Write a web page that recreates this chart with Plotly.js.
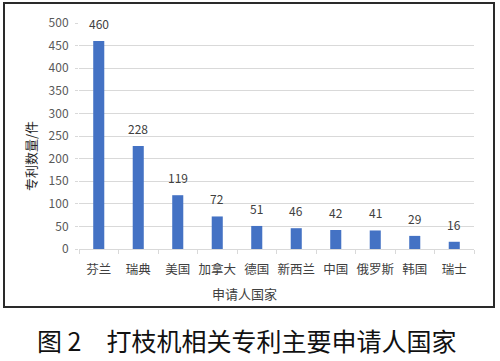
<!DOCTYPE html>
<html>
<head>
<meta charset="utf-8">
<script src="https://cdn.plot.ly/plotly-3.0.1.min.js"></script>
<style>html,body{margin:0;padding:0;background:#fff;}#chart{width:500px;height:361px;}</style>
</head>
<body>
<div id="chart"></div>
<script>
const categories = ["芬兰","瑞典","美国","加拿大","德国","新西兰","中国","俄罗斯","韩国","瑞士"];
const patentCounts = [460,228,119,72,51,46,42,41,29,16];
const yTicks = [0,50,100,150,200,250,300,350,400,450,500];
const yTitle = "专利数量/件";
const xTitle = "申请人国家";
const caption = "图 2　打枝机相关专利主要申请人国家";

const FONT = "'Noto Sans CJK SC', 'Noto Sans', sans-serif";
const W = 500, H = 361;
const L = 79, R = 26, T = 23, B = 112;
const pw = W - L - R, ph = H - T - B;
const px = x => (x - L) / pw;
const py = y => (H - B - y) / ph;

const trace = {
  type: "bar",
  x: categories,
  y: patentCounts,
  marker: {color: "#4472c4"},
  hoverinfo: "x+y"
};

const annotations = categories.map((c, i) => ({
  x: c, y: patentCounts[i], xref: "x", yref: "y",
  text: String(patentCounts[i]), showarrow: false,
  yanchor: "bottom", yshift: 7,
  font: {family: FONT, size: 12, color: "#404040"}
}));
annotations.push({
  xref: "paper", yref: "paper", x: px(30), y: py(156),
  text: yTitle, textangle: -90, showarrow: false,
  xanchor: "center", yanchor: "middle",
  font: {family: FONT, size: 13, color: "#262626"}
});
annotations.push({
  xref: "paper", yref: "paper", x: px(244), y: py(293),
  text: xTitle, showarrow: false, xanchor: "center", yanchor: "middle",
  font: {family: FONT, size: 13, color: "#404040"}
});
annotations.push({
  xref: "paper", yref: "paper", x: px(246), y: py(340),
  text: caption, showarrow: false, xanchor: "center", yanchor: "middle",
  font: {family: FONT, size: 25, color: "#111"}
});

const layout = {
  width: W, height: H,
  margin: {l: L, r: R, t: T, b: B},
  paper_bgcolor: "#fff", plot_bgcolor: "#fff",
  bargap: 0.72,
  showlegend: false,
  xaxis: {
    type: "category",
    tickangle: 0,
    tickfont: {family: FONT, size: 12.5, color: "#404040"},
    ticklabelstandoff: 9,
    showline: true, linecolor: "#d9d9d9", linewidth: 1,
    ticks: "outside", tickson: "boundaries", ticklen: 4, tickcolor: "#d9d9d9",
    showgrid: false, fixedrange: true
  },
  yaxis: {
    range: [0, 500],
    tickvals: yTicks,
    tickfont: {family: FONT, size: 12, color: "#595959"},
    ticklabelstandoff: 4,
    showgrid: true, gridcolor: "#d9d9d9", gridwidth: 1,
    showline: false, zeroline: false,
    ticks: "outside", ticklen: 3, tickcolor: "#d9d9d9",
    fixedrange: true
  },
  annotations: annotations,
  shapes: [{
    type: "rect", xref: "paper", yref: "paper",
    x0: px(4), x1: px(494), y0: py(307), y1: py(3),
    line: {color: "#2a2a2a", width: 2}, fillcolor: "rgba(0,0,0,0)", layer: "above"
  }]
};

Plotly.newPlot("chart", [trace], layout, {displayModeBar: false, staticPlot: true});
</script>
</body>
</html>
